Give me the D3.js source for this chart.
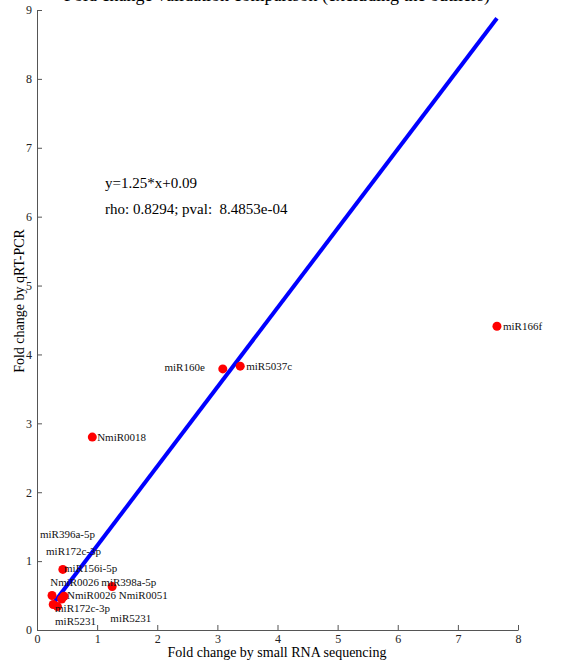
<!DOCTYPE html>
<html>
<head>
<meta charset="utf-8">
<script src="https://cdn.jsdelivr.net/npm/d3@7"></script>
<style>
  body { margin: 0; background: #fff; }
  text { font-family: "Liberation Serif", "Times New Roman", serif; }
  .axis path, .axis line { stroke: #555; }
</style>
</head>
<body>
<div id="chart"></div>
<script>
// data
var names  = ['miR166f', 'miR5037c', 'miR160e', 'NmiR0018', 'miR156i-5p', 'miR398a-5p',
              'NmiR0026', 'miR172c-3p', 'miR5231', 'NmiR0051', 'miR5231b'];
var seqFC  = [7.65, 3.38, 3.09, 0.92, 0.43, 1.25, 0.25, 0.27, 0.34, 0.41, 0.45];
var pcrFC  = [4.41, 3.83, 3.79, 2.80, 0.88, 0.63, 0.50, 0.37, 0.34, 0.45, 0.49];

// labels are placed on their own in the figure
var labelText = ['miR166f', 'miR5037c', 'miR160e', 'NmiR0018', 'miR396a-5p', 'miR172c-3p',
                 'miR156i-5p', 'NmiR0026', 'miR398a-5p', 'NmiR0026', 'NmiR0051',
                 'miR172c-3p', 'miR5231', 'miR5231'];
var labelX    = [7.75, 3.48, 2.12, 1.00, 0.05, 0.15, 0.45, 0.22, 1.07, 0.50, 1.36, 0.30, 0.30, 1.22];
var labelY    = [4.41, 3.83, 3.81, 2.80, 1.39, 1.14, 0.90, 0.70, 0.70, 0.51, 0.51, 0.32, 0.13, 0.17];

var fitX = [0.25, 7.65];
var fitY = [0.36, 8.88];

var xTicks = [0, 1, 2, 3, 4, 5, 6, 7, 8];
var yTicks = [0, 1, 2, 3, 4, 5, 6, 7, 8, 9];

var title    = 'Fold change validation comparison (excluding the outliers)';
var eqText   = 'y=1.25*x+0.09';
var rhoText  = 'rho: 0.8294; pval:  8.4853e-04';

function drawChart() {
  var width = 566, height = 664;
  var mLeft = 37, mRight = 518, mTop = 10, mBottom = 630;

  var svg = d3.select('#chart').append('svg')
    .attr('width', width)
    .attr('height', height);

  var x = d3.scaleLinear().domain([0, 8]).range([mLeft, mRight]);
  var y = d3.scaleLinear().domain([0, 9]).range([mBottom, mTop]);

  // axes, ticks pointing inward
  svg.append('g').attr('class', 'axis')
    .attr('transform', 'translate(0,' + mBottom + ')')
    .call(d3.axisBottom(x).tickValues(xTicks).tickSize(-5).tickSizeOuter(0).tickPadding(4));
  svg.append('g').attr('class', 'axis')
    .attr('transform', 'translate(' + mLeft + ',0)')
    .call(d3.axisLeft(y).tickValues(yTicks).tickSize(-5).tickSizeOuter(0).tickPadding(5));
  svg.selectAll('.axis text')
    .style('font-family', '"Liberation Serif", serif')
    .style('font-size', '12px')
    .attr('fill', '#222');

  // regression line
  var line = d3.line().x(function(d) { return x(d[0]); }).y(function(d) { return y(d[1]); });
  svg.append('path')
    .datum(d3.zip(fitX, fitY))
    .attr('d', line)
    .attr('fill', 'none')
    .attr('stroke', '#0000ff')
    .attr('stroke-width', 4);

  // points
  svg.selectAll('circle.pt')
    .data(d3.zip(seqFC, pcrFC))
    .enter().append('circle')
    .attr('class', 'pt')
    .attr('cx', function(d) { return x(d[0]); })
    .attr('cy', function(d) { return y(d[1]); })
    .attr('r', 4.5)
    .attr('fill', '#ff0000');

  // point labels
  svg.selectAll('text.lbl')
    .data(labelText)
    .enter().append('text')
    .attr('class', 'lbl')
    .attr('x', function(d, i) { return x(labelX[i]); })
    .attr('y', function(d, i) { return y(labelY[i]); })
    .attr('dy', '0.35em')
    .style('font-size', '11px')
    .attr('fill', '#111')
    .text(function(d) { return d; });

  // equation text
  svg.append('text').attr('x', 105).attr('y', 188)
    .style('font-size', '15px').text(eqText);
  svg.append('text').attr('x', 105).attr('y', 214)
    .style('font-size', '15px').style('white-space', 'pre').text(rhoText);

  // title (cut at the top edge)
  svg.append('text')
    .attr('x', 277).attr('y', 1)
    .attr('text-anchor', 'middle')
    .style('font-size', '18px')
    .text(title);

  // axis labels
  svg.append('text')
    .attr('x', 277).attr('y', 657)
    .attr('text-anchor', 'middle')
    .style('font-size', '14px')
    .text('Fold change by small RNA sequencing');
  svg.append('text')
    .attr('transform', 'translate(24,301) rotate(-90)')
    .attr('text-anchor', 'middle')
    .style('font-size', '14px')
    .text('Fold change by qRT-PCR');
}

drawChart();
</script>
</body>
</html>
